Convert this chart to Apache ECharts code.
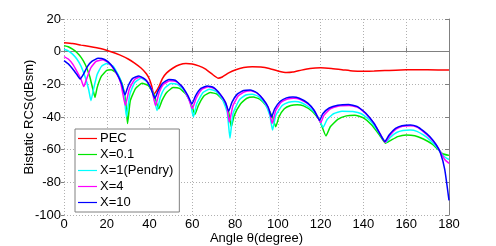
<!DOCTYPE html>
<html><head><meta charset="utf-8">
<script src="https://cdn.jsdelivr.net/npm/echarts@6/dist/echarts.min.js"></script>
<style>html,body{margin:0;padding:0;background:#fff}#c{width:496px;height:246px}</style>
</head><body><div id="c"></div>
<script>
const xTicks = [0,20,40,60,80,100,120,140,160,180];
const yTicks = [-100,-80,-60,-40,-20,0,20];
const seriesNames = ['PEC','X=0.1','X=1(Pendry)','X=4','X=10'];

const pec = [[0,5.5],[4,5],[8,4],[12,3.2],[17,2],[22,0],[26,-2],[30,-4.5],[33,-7],[36,-10],[38.5,-13.5],[40,-17],[41,-21],[42,-26],[43,-24.5],[44.5,-21],[46,-16.5],[48,-13],[51,-10],[54,-8],[57,-7.2],[60,-7.5],[63,-8.7],[66,-10.5],[69,-13.5],[72,-16.2],[74,-15.5],[77,-13],[80,-11.2],[84,-9.7],[88,-9.2],[92,-9.4],[96,-10.3],[100,-11.8],[104,-12.8],[107,-12.5],[111,-11.3],[115,-10.3],[120,-9.9],[125,-10.3],[130,-11],[135,-11.8],[140,-12],[145,-11.9],[150,-11.6],[160,-11],[170,-11.1],[180,-11.3]];

const x01 = [[0,3.7],[2,3],[4,1.5],[6,-0.5],[8,-3.5],[10,-8],[12,-15],[13.5,-23],[14.5,-28],[15.5,-22],[17.5,-15],[20,-11.5],[22,-11],[24.5,-13],[27,-19],[28.8,-30],[29.7,-44],[31,-30],[33.5,-22.5],[36.5,-19.4],[39.5,-20.8],[42,-26],[44.3,-35],[45.8,-30],[48,-25],[51,-22],[54,-22.5],[57,-26],[59.5,-32],[61.2,-38.5],[62.8,-33],[65.5,-27],[68.5,-25],[71.5,-26],[74.5,-30],[77,-37],[78.2,-46],[79.6,-39],[82.5,-32],[85.5,-28.5],[88.5,-27.8],[91.5,-29],[94.5,-33],[97.5,-40],[99,-46],[100.5,-40],[103,-35],[106,-33],[109,-32.5],[112,-33.2],[116,-36.5],[119.5,-42],[122.5,-51.6],[124.5,-46],[128,-41.5],[132,-39.3],[136,-38.9],[140,-40.5],[144,-45],[147.5,-51],[150.3,-56],[152.5,-54.5],[156,-52],[160,-51],[164,-51.5],[168,-53.5],[172,-56.5],[175,-60],[177,-62.5],[180,-63.5]];

const x1 = [[0,1.5],[2,0.5],[4,-1.5],[6,-4.5],[8,-9],[10,-16],[11.5,-23],[12.6,-30],[13.8,-23],[15.5,-14],[17.5,-9],[20,-7.2],[23,-9],[26,-16],[28,-25],[29.2,-40],[30.8,-26],[33,-19],[36,-16.3],[39,-18.5],[41.5,-25],[43.5,-36],[45,-28],[47,-22.5],[50,-19.5],[53,-20],[56,-23.5],[59,-31],[60.5,-40],[62,-32],[65,-25],[68,-23],[71,-24.2],[74,-29],[76.3,-37],[77.6,-53],[79,-38],[82,-29.5],[85,-26.5],[88,-26],[91,-27.5],[94,-32],[96.2,-39],[97.5,-48],[99,-39],[102,-33],[105,-31],[108,-30.5],[111,-31.3],[115,-34.5],[118.5,-39.5],[121.2,-46.3],[123,-41.5],[126,-38],[130,-36.5],[135,-36.7],[139,-38],[143,-42],[146.5,-48],[149,-53],[150.5,-55.5],[152.5,-52.5],[155.5,-49.5],[158.5,-48.3],[162,-48],[165,-48.8],[168,-51],[171,-54],[174,-58],[176,-61.5],[178,-64.5],[180,-66]];

const x4 = [[0,-3],[2,-4.5],[4,-7.5],[6,-12],[8,-17],[9.2,-21.4],[10.5,-17],[12.5,-10],[15,-6],[18,-5],[21,-7],[24,-12],[26.5,-19],[28.7,-33],[30.5,-23],[33,-17],[35.5,-15.5],[38.5,-17.5],[41,-23],[42.8,-33],[44.5,-25],[46.5,-20],[49.5,-17.8],[52.5,-18.3],[55.5,-22],[58.3,-29],[60,-35],[61.8,-28.5],[64.5,-23],[67.5,-21.5],[70.5,-22.7],[73.5,-27],[76,-33],[77.3,-43],[79,-33],[81.5,-27],[84.5,-24.5],[87.5,-24],[90.5,-25.5],[93.5,-30],[96,-36],[97.3,-44],[99,-36],[101.5,-31],[104.5,-29],[107.5,-28.5],[110.5,-29.3],[114.5,-32.5],[117.5,-37],[120,-43.5],[121.5,-39],[124.5,-35],[128.5,-33.3],[133.5,-33],[137.5,-34.2],[141.5,-38.5],[145.5,-45],[148.5,-52],[150.2,-55.5],[152.2,-51.5],[155.2,-47.5],[158.2,-45.7],[162,-45.3],[165,-46.2],[168,-49],[171,-52.5],[174,-57],[176,-61.5],[178,-66],[180,-68.4]];

const x10 = [[0,-5.5],[2,-7.5],[4,-10.5],[6,-14],[7.5,-16.7],[9,-14],[11,-9],[13,-6],[16,-4],[19,-4.8],[22,-8],[25,-14],[27,-20],[28.5,-26.5],[30,-21],[32,-16.5],[35,-14.9],[38,-17],[40.5,-22],[42.5,-28.5],[44,-24],[46,-19.5],[49,-17],[52,-17.5],[55,-21],[58,-27],[59.8,-32],[61.5,-27],[64,-22.5],[67,-21],[70,-22],[73,-26],[75.5,-31],[77,-36.5],[78.5,-31],[81,-26],[84,-23.8],[87,-23.5],[90,-25],[93,-29],[95.5,-34],[97,-40],[98.5,-35],[101,-30.5],[104,-28.3],[107,-27.8],[110,-28.5],[114,-31.5],[117,-36],[119.5,-42],[121,-38],[124,-34.5],[128,-32.8],[133,-32.3],[137,-33.5],[141,-37.5],[145,-44],[148,-51],[150,-55],[152,-51],[155,-47],[158,-45.3],[162,-44.9],[165,-45.8],[168,-48.5],[171,-52],[174,-57],[176,-62],[178,-72],[180,-91]];

const colors = ['#ff0000','#00e600','#00ffff','#ff00ff','#0000ff'];
const dataSets = [pec, x01, x1, x4, x10];

const chart = echarts.init(document.getElementById('c'), null, {renderer:'canvas'});
const font = 'Liberation Sans, Arial, sans-serif';
chart.setOption({
  animation: false,
  backgroundColor: '#fff',
  grid: {left: 64, right: 47, top: 19, bottom: 31, containLabel: false, outerBoundsMode: 'none'},
  xAxis: {
    type: 'value', min: 0, max: 180, interval: 20,
    name: 'Angle θ(degree)', nameLocation: 'middle', nameGap: 17, nameMoveOverlap: false,
    nameTextStyle: {fontFamily: font, fontSize: 13, color: '#000'},
    axisLine: {show: true, lineStyle: {color: '#808080'}},
    axisTick: {show: true, inside: true, length: 4, lineStyle: {color: '#808080'}},
    axisLabel: {fontFamily: font, fontSize: 13, color: '#000', margin: 3,
      formatter: v => xTicks.includes(v) ? String(v) : ''},
    splitLine: {show: true, lineStyle: {color: '#b0b0b0', type: [1,2], width: 1}}
  },
  yAxis: [{
    type: 'value', min: -100, max: 20, interval: 20,
    name: 'Bistatic RCS(dBsm)', nameLocation: 'middle', nameGap: 28, nameMoveOverlap: false,
    nameTextStyle: {fontFamily: font, fontSize: 13, color: '#000'},
    axisLine: {show: false},
    axisTick: {show: true, inside: false, length: 3, lineStyle: {color: '#808080'}},
    axisLabel: {fontFamily: font, fontSize: 13, color: '#000', margin: 3,
      formatter: v => yTicks.includes(v) ? String(v) : ''},
    splitLine: {show: true, lineStyle: {color: '#b0b0b0', type: [1,2], width: 1}}
  },{
    type: 'value', min: -100, max: 20, interval: 20, position: 'right',
    axisLine: {show: true, lineStyle: {color: '#808080'}},
    axisTick: {show: true, inside: true, length: 4, lineStyle: {color: '#808080'}},
    axisLabel: {show: false}, splitLine: {show: false}
  }],
  legend: {
    orient: 'vertical', left: 75, top: 129,
    data: seriesNames,
    icon: 'rect', itemWidth: 19, itemHeight: 1.2, itemGap: 3,
    padding: [3, 6, 3, 3],
    backgroundColor: '#fff', borderColor: '#808080', borderWidth: 1,
    textStyle: {fontFamily: font, fontSize: 13, color: '#000', lineHeight: 13, padding: [0,0,0,-2]}
  },
  series: dataSets.map((d, i) => ({
    name: seriesNames[i], type: 'line', data: d, showSymbol: false, symbol: 'none',
    smooth: 0.15, z: 2 + i,
    lineStyle: {color: colors[i], width: 1.5},
    itemStyle: {color: colors[i]}
  }))
});
</script></body></html>
